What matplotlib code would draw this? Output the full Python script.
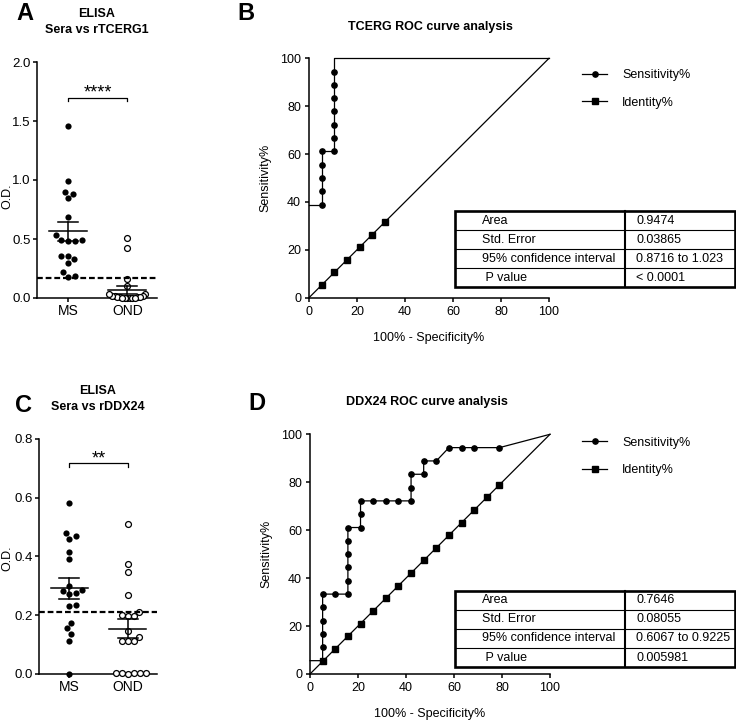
import numpy as np
import matplotlib
matplotlib.use("Agg")
import matplotlib.pyplot as plt
from matplotlib.patches import Rectangle

plt.rcParams['font.family'] = ['Liberation Sans', 'DejaVu Sans']
plt.rcParams['font.size'] = 9
plt.rcParams['axes.linewidth'] = 1.1

W, H, DPI = 736, 726, 100

# ---------------- data ----------------
groups = ["MS", "OND"]

tcerg_ms = [1.46, 0.99, 0.88, 0.90, 0.845, 0.69, 0.53, 0.49, 0.48, 0.48, 0.49,
            0.36, 0.33, 0.36, 0.30, 0.22, 0.18, 0.19]
tcerg_ond = [0.51, 0.42, 0.16, 0.10, 0.03, 0.02, 0.02, 0.01, 0.01, 0.01, 0.0,
             0.0, 0.0, 0.0, 0.0, 0.01, 0.02, 0.0, 0.03]
tcerg_cutoff = 0.17
tcerg_sig = "****"

ddx24_ms = [0.58, 0.47, 0.46, 0.48, 0.415, 0.39, 0.30, 0.283, 0.274, 0.272, 0.285,
            0.235, 0.231, 0.175, 0.155, 0.136, 0.113, 0.0]
ddx24_ond = [0.51, 0.375, 0.347, 0.269, 0.21, 0.197, 0.197, 0.20, 0.147, 0.127,
             0.113, 0.113, 0.113, 0.005, 0.002, 0.002, 0.0, 0.002, 0.005]
ddx24_cutoff = 0.21
ddx24_sig = "**"

# ROC curves (100% - Specificity%, Sensitivity%)
tcerg_roc_x = [0, 5.26, 5.26, 5.26, 5.26, 5.26, 10.53, 10.53, 10.53, 10.53, 10.53,
               10.53, 10.53, 10.53, 100]
tcerg_roc_y = [38.89, 38.89, 44.44, 50.0, 55.56, 61.11, 61.11, 66.67, 72.22, 77.78,
               83.33, 88.89, 94.44, 100, 100]
tcerg_id = [0, 5.26, 10.53, 15.79, 21.05, 26.32, 31.58, 100]

ddx24_roc_x = [0, 5.26, 5.26, 5.26, 5.26, 5.26, 5.26, 10.53, 15.79, 15.79, 15.79,
               15.79, 15.79, 15.79, 21.05, 21.05, 21.05, 26.32, 31.58, 36.84, 42.11,
               42.11, 42.11, 47.37, 47.37, 52.63, 57.89, 63.16, 68.42, 78.95, 100]
ddx24_roc_y = [5.56, 5.56, 11.11, 16.67, 22.22, 27.78, 33.33, 33.33, 33.33, 38.89,
               44.44, 50.0, 55.56, 61.11, 61.11, 66.67, 72.22, 72.22, 72.22, 72.22,
               72.22, 77.78, 83.33, 83.33, 88.89, 88.89, 94.44, 94.44, 94.44, 94.44, 100]
ddx24_id = [0, 5.26, 10.53, 15.79, 21.05, 26.32, 31.58, 36.84, 42.11, 47.37, 52.63,
            57.89, 63.16, 68.42, 73.68, 78.95, 100]

table_labels = ["Area", "Std. Error", "95% confidence interval", " P value"]
tcerg_table = ["0.9474", "0.03865", "0.8716 to 1.023", "< 0.0001"]
ddx24_table = ["0.7646", "0.08055", "0.6067 to 0.9225", "0.005981"]

# ---------------- helpers ----------------
fig = plt.figure(figsize=(W / DPI, H / DPI), dpi=DPI)


def add_ax(x0, y0, x1, y1):
    return fig.add_axes([x0 / W, 1 - y1 / H, (x1 - x0) / W, (y1 - y0) / H])


def swarm(vals, px_per_y, d=7.0, maxw=18.0):
    vals = np.asarray(vals, float)
    offs = np.zeros(len(vals))
    placed = []
    for i in np.argsort(vals, kind="stable"):
        y = vals[i] * px_per_y
        cands = [0.0]
        for px, py in placed:
            dy = y - py
            if abs(dy) < d:
                dx = np.sqrt(d * d - dy * dy)
                cands += [px + dx, px - dx]
        cands.sort(key=abs)
        for c in cands:
            if all((c - px) ** 2 + (y - py) ** 2 >= d * d - 1e-6 for px, py in placed):
                offs[i] = c
                placed.append((c, y))
                break
    m = np.abs(offs).max()
    if m > maxw:
        offs *= maxw / m
    return offs


def style_axes(ax, size, pad):
    for s in ("top", "right"):
        ax.spines[s].set_visible(False)
    ax.tick_params(direction="out", length=3.2, width=1.1, labelsize=size, pad=pad)


def scatter_panel(ax, ms, ond, cutoff, sig, ymax, ystep, px_x, px_y, bracket_y, drop,
                  sig_y, lab_x, lab_y):
    style_axes(ax, 9.5, 1.2)
    ax.tick_params(axis="x", labelsize=10)
    for k, vals in enumerate([ms, ond]):
        offs = swarm(vals, px_y) / px_x
        if k == 0:
            ax.scatter(k + offs, vals, s=20, color="black", zorder=3, clip_on=False,
                       linewidths=0)
        else:
            ax.scatter(k + offs, vals, s=18, facecolor="white", edgecolor="black",
                       linewidths=0.9, zorder=3, clip_on=False)
        v = np.asarray(vals)
        mean = v.mean()
        sem = v.std(ddof=1) / np.sqrt(len(v))
        ax.plot([k - 0.32, k + 0.32], [mean, mean], color="black", lw=1.1, zorder=4)
        ax.plot([k, k], [mean - sem, mean + sem], color="black", lw=1.1, zorder=4)
        for e in (mean - sem, mean + sem):
            ax.plot([k - 0.17, k + 0.17], [e, e], color="black", lw=1.1, zorder=4)
    ax.axhline(cutoff, color="black", lw=1.6, ls=(0, (2.6, 1.3)), zorder=5)
    ax.plot([0, 0, 1, 1], [bracket_y - drop, bracket_y, bracket_y, bracket_y - drop],
            color="black", lw=0.9)
    ax.text(0.5, sig_y, sig, ha="center", va="baseline", fontsize=13)
    ax.set_xlim(-0.52, 1.5)
    ax.set_ylim(0, ymax)
    ticks = np.arange(0, ymax + 1e-9, ystep)
    ax.set_yticks(ticks)
    ax.set_yticklabels([f"{t:.1f}" for t in ticks])
    ax.set_xticks([0, 1])
    ax.set_xticklabels(groups)
    ax.set_ylabel("O.D.", fontsize=9)
    ax.yaxis.set_label_coords(lab_x, lab_y)


# ---------------- panels ----------------
axA = add_ax(37, 62, 157, 298)
scatter_panel(axA, tcerg_ms, tcerg_ond, tcerg_cutoff, tcerg_sig, 2.0, 0.5, 60, 118,
              1.695, 0.025, 1.703, (13 - 37) / 120, 0.43)

axC = add_ax(39, 438.7, 157, 674)
scatter_panel(axC, ddx24_ms, ddx24_ond, ddx24_cutoff, ddx24_sig, 0.8, 0.2, 59, 294.2,
              0.716, 0.012, 0.717, (13 - 39) / 118, 0.49)

axB = add_ax(309, 58.3, 549, 297.7)
axD = add_ax(310, 434.3, 550, 674)
for ax, rx, ry, ident, ly in ((axB, tcerg_roc_x, tcerg_roc_y, tcerg_id, 89),
                              (axD, ddx24_roc_x, ddx24_roc_y, ddx24_id, 456.4)):
    style_axes(ax, 9, 2.5)
    n = len(rx)
    ax.plot(rx, ry, color="black", lw=0.9, marker="o", ms=3.8,
            markevery=list(range(1, n - 2 if ry[-2] == 100 else n - 1)),
            label="Sensitivity%", clip_on=False)
    ax.plot(ident, ident, color="black", lw=0.9, marker="s", ms=3.8,
            markevery=list(range(1, len(ident) - 1)), label="Identity%", clip_on=False)
    ax.set_xlim(0, 100)
    ax.set_ylim(0, 100)
    ax.set_xticks(range(0, 101, 20))
    ax.set_yticks(range(0, 101, 20))
    ax.set_ylabel("Sensitivity%", fontsize=9, labelpad=6)
    ax.set_xlabel("100% - Specificity%", fontsize=9, labelpad=10)
    ax.legend(loc="center left", bbox_to_anchor=(582 / W, 1 - ly / H),
              bbox_transform=fig.transFigure, frameon=False, fontsize=9,
              handlelength=2.0, handletextpad=1.2, labelspacing=1.25,
              borderpad=0, borderaxespad=0, numpoints=1)

# ---------------- overlay (pixel coords) ----------------
ov = fig.add_axes([0, 0, 1, 1], zorder=10)
ov.set_xlim(0, W)
ov.set_ylim(H, 0)
ov.axis("off")

ov.text(25, 13, "A", fontsize=17, fontweight="bold", ha="center", va="center")
ov.text(246, 14, "B", fontsize=17, fontweight="bold", ha="center", va="center")
ov.text(23, 406, "C", fontsize=17, fontweight="bold", ha="center", va="center")
ov.text(257, 404, "D", fontsize=17, fontweight="bold", ha="center", va="center")

ov.text(97, 14, "ELISA", fontsize=9, fontweight="bold", ha="center", va="center")
ov.text(97, 30, "Sera vs rTCERG1", fontsize=9, fontweight="bold", ha="center", va="center")
ov.text(98, 391, "ELISA", fontsize=9, fontweight="bold", ha="center", va="center")
ov.text(98, 407, "Sera vs rDDX24", fontsize=9, fontweight="bold", ha="center", va="center")

ov.text(430, 27, "TCERG ROC curve analysis", fontsize=9, fontweight="bold",
        ha="center", va="center")
ov.text(427, 402, "DDX24 ROC curve analysis", fontsize=9, fontweight="bold",
        ha="center", va="center")


def draw_table(top, values):
    left, right, mid = 455, 735, 624.5
    rh = 19.1
    bottom = top + 4 * rh
    for i in range(1, 4):
        ov.plot([left, right], [top + i * rh] * 2, color="black", lw=0.8)
    ov.plot([mid, mid], [top, bottom], color="black", lw=1.5)
    ov.add_patch(Rectangle((left, top), right - left, bottom - top, fill=False,
                           ec="black", lw=1.9))
    for i, (lab, val) in enumerate(zip(table_labels, values)):
        yc = top + (i + 0.5) * rh
        ov.text(481.5, yc, lab, fontsize=9, ha="left", va="center")
        ov.text(636.5, yc, val, fontsize=9, ha="left", va="center")


draw_table(211, tcerg_table)
draw_table(590.7, ddx24_table)

fig.savefig("out.png", dpi=DPI)
